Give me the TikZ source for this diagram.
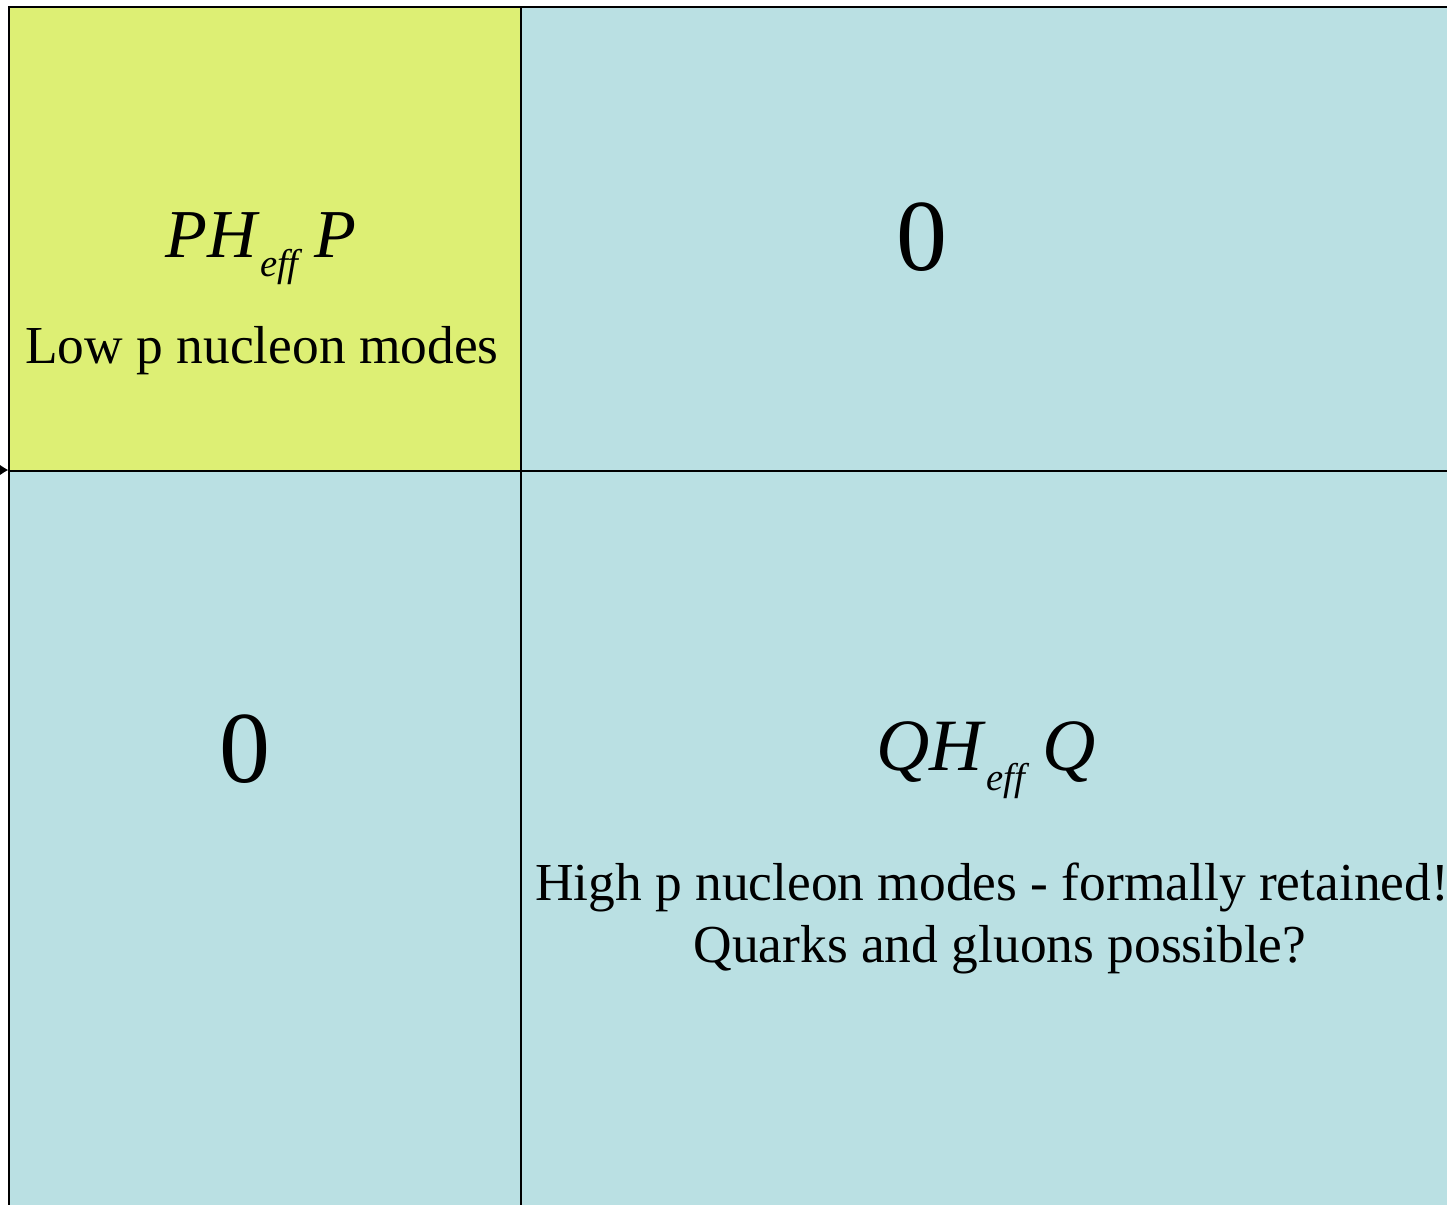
\documentclass[tikz,border=0pt]{standalone}
\usepackage{fontspec}
\setmainfont{Liberation Serif}
\usetikzlibrary{arrows.meta}
\definecolor{pgreen}{RGB}{221,239,116}
\definecolor{qblue}{RGB}{186,224,227}
\newcommand{\effsub}{\raisebox{-0.28em}{\fontsize{11}{12}\selectfont\textit{eff}}}
\begin{document}
\begin{tikzpicture}[scale=1, every node/.style={align=center, inner sep=0pt},
    cell/.style={draw, line width=0.7pt, anchor=north west}]
    \useasboundingbox (0,0) rectangle (14.47,-12.04);
    \node[cell, fill=pgreen, minimum width=5.12cm, minimum height=4.64cm] (pp) at (0.08,-0.06) {};
    \node[cell, fill=qblue, minimum width=9.8cm, minimum height=4.64cm] (pq) at (5.20,-0.06) {};
    \node[cell, fill=qblue, minimum width=5.12cm, minimum height=8.3cm] (qp) at (0.08,-4.70) {};
    \node[cell, fill=qblue, minimum width=9.8cm, minimum height=8.3cm] (qq) at (5.20,-4.70) {};

    \node[anchor=base] (ppname) at (2.61,-2.57) {\fontsize{19.5}{23}\selectfont\textit{PH}\effsub\,\textit{P}};
    \node[anchor=base] (pptext) at (2.62,-3.63) {\fontsize{15.2}{18}\selectfont Low p nucleon modes};
    \node[anchor=base] (pqzero) at (9.22,-2.70) {\fontsize{29}{34}\selectfont 0};
    \node[anchor=base] (qpzero) at (2.45,-7.82) {\fontsize{29}{34}\selectfont 0};
    \node[anchor=base] (qqname) at (9.86,-7.70) {\fontsize{21}{25}\selectfont\textit{QH}\effsub\,\textit{Q}};
    \node[anchor=base] (qqtext) at (9.92,-9.00) {\fontsize{15.2}{18}\selectfont High p nucleon modes - formally retained!};
    \node[anchor=base] (qqtext2) at (10.00,-9.62) {\fontsize{15.2}{18}\selectfont Quarks and gluons possible?};

    \coordinate (in) at (-0.6,-4.70);
    \draw[-{Latex[length=3mm, width=5mm]}, line width=0.7pt] (in) -- (qp.north west);
\end{tikzpicture}
\end{document}
